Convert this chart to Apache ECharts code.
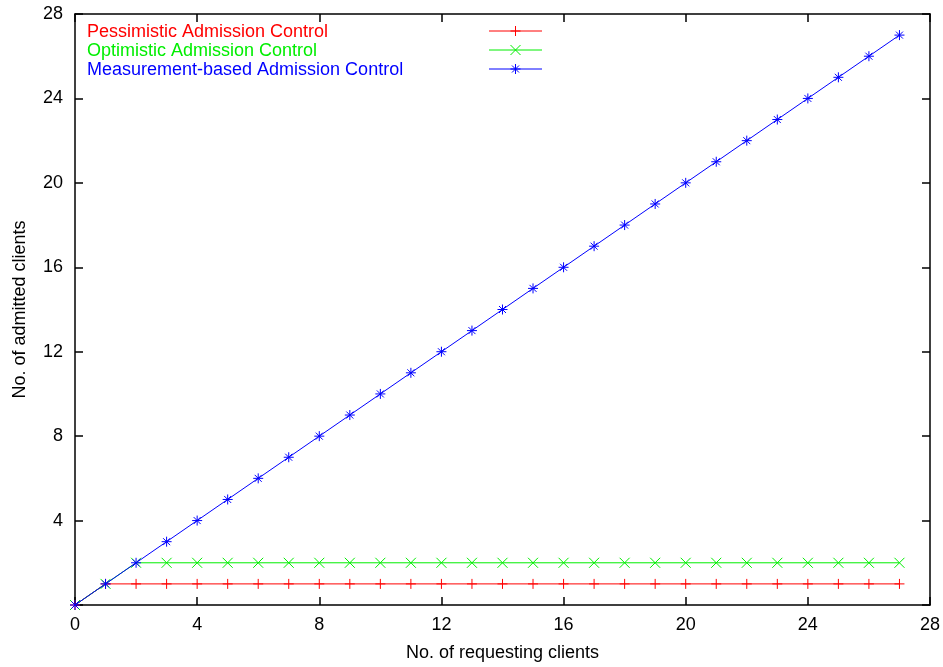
<!DOCTYPE html>
<html><head><meta charset="utf-8">
<script src="https://cdn.jsdelivr.net/npm/echarts@6/dist/echarts.min.js"></script>
<style>html,body{margin:0;padding:0;background:#fff}#c{width:943px;height:667px}</style>
</head><body><div id="c"></div>
<script>
var requesting = [0,1,2,3,4,5,6,7,8,9,10,11,12,13,14,15,16,17,18,19,20,21,22,23,24,25,26,27];
var pessimistic = [0,1,1,1,1,1,1,1,1,1,1,1,1,1,1,1,1,1,1,1,1,1,1,1,1,1,1,1];
var optimistic = [0,1,2,2,2,2,2,2,2,2,2,2,2,2,2,2,2,2,2,2,2,2,2,2,2,2,2,2];
var measurement = [0,1,2,3,4,5,6,7,8,9,10,11,12,13,14,15,16,17,18,19,20,21,22,23,24,25,26,27];
var seriesNames = ['Pessimistic Admission Control','Optimistic Admission Control','Measurement-based Admission Control'];
var colors = ['#ff0000','#00ee00','#0000ff'];
var xTitle = 'No. of requesting clients';
var yTitle = 'No. of admitted clients';

var PLUS = 'path://M0,5L10,5M5,0L5,10';
var CROSS = 'path://M0,0L10,10M10,0L0,10';
var STAR = 'path://M0,5L10,5M5,0L5,10M1.5,1.5L8.5,8.5M8.5,1.5L1.5,8.5';
var symbols = [PLUS, CROSS, STAR];
var segs = [
  [[0,5,10,5],[5,0,5,10]],
  [[0,0,10,10],[10,0,0,10]],
  [[0,5,10,5],[5,0,5,10],[1.5,1.5,8.5,8.5],[8.5,1.5,1.5,8.5]]
];
var FONT = 'Liberation Sans, Arial, sans-serif';
var FS = 18;

function pairs(ys){ return requesting.map(function(x,i){return [x, ys[i]];}); }
var datas = [pessimistic, optimistic, measurement];

var chart = echarts.init(document.getElementById('c'), null, {renderer:'canvas'});
var axisCommon = {
  type:'value', min:0, max:28, interval:4,
  axisLine:{show:true, onZero:false, lineStyle:{color:'#000', width:1.5}},
  axisTick:{show:true, inside:true, length:8, lineStyle:{color:'#000', width:1.5}},
  splitLine:{show:false}
};
var series = datas.map(function(d,i){
  return {
    name: seriesNames[i], type:'line', data: pairs(d),
    symbol: symbols[i], symbolSize: 10, showSymbol:true,
    lineStyle:{color:colors[i], width:1},
    itemStyle:{color:colors[i], borderColor:colors[i], borderWidth:1},
    emphasis:{disabled:true}, silent:true, animation:false, z: 2+i
  };
});
var graphics = [];
var rowsY = [31, 50, 69];
seriesNames.forEach(function(n,i){
  graphics.push({type:'text', x:87, y: rowsY[i]+1.5, silent:true, style:{text:n, fill:colors[i], font:FS+'px '+FONT, textVerticalAlign:'middle', verticalAlign:'middle'}});
  graphics.push({type:'line', silent:true, shape:{x1:489, y1:rowsY[i], x2:542, y2:rowsY[i]}, style:{stroke:colors[i], lineWidth:1}});
  segs[i].forEach(function(s){
    graphics.push({type:'line', silent:true, shape:{x1:510.5+s[0], y1:rowsY[i]-5+s[1], x2:510.5+s[2], y2:rowsY[i]-5+s[3]}, style:{stroke:colors[i], lineWidth:1}});
  });
});

chart.setOption({
  animation:false,
  backgroundColor:'#fff',
  grid:{left:75, right:12, top:14, bottom:60, containLabel:false},
  xAxis:[
    Object.assign({}, axisCommon, {position:'bottom', name:xTitle, nameLocation:'middle', nameGap:39,
      nameTextStyle:{color:'#000', fontSize:FS, fontFamily:FONT},
      axisLabel:{color:'#000', fontSize:FS, fontFamily:FONT, margin:11}}),
    Object.assign({}, axisCommon, {position:'top', axisLabel:{show:false}})
  ],
  yAxis:[
    Object.assign({}, axisCommon, {position:'left', name:yTitle, nameLocation:'middle', nameGap:46,
      nameTextStyle:{color:'#000', fontSize:FS, fontFamily:FONT},
      axisLabel:{color:'#000', fontSize:FS, fontFamily:FONT, margin:12, formatter:function(v){return v===0?'':String(v);}}}),
    Object.assign({}, axisCommon, {position:'right', axisLabel:{show:false}})
  ],
  series: series,
  graphic: graphics
});
</script></body></html>
